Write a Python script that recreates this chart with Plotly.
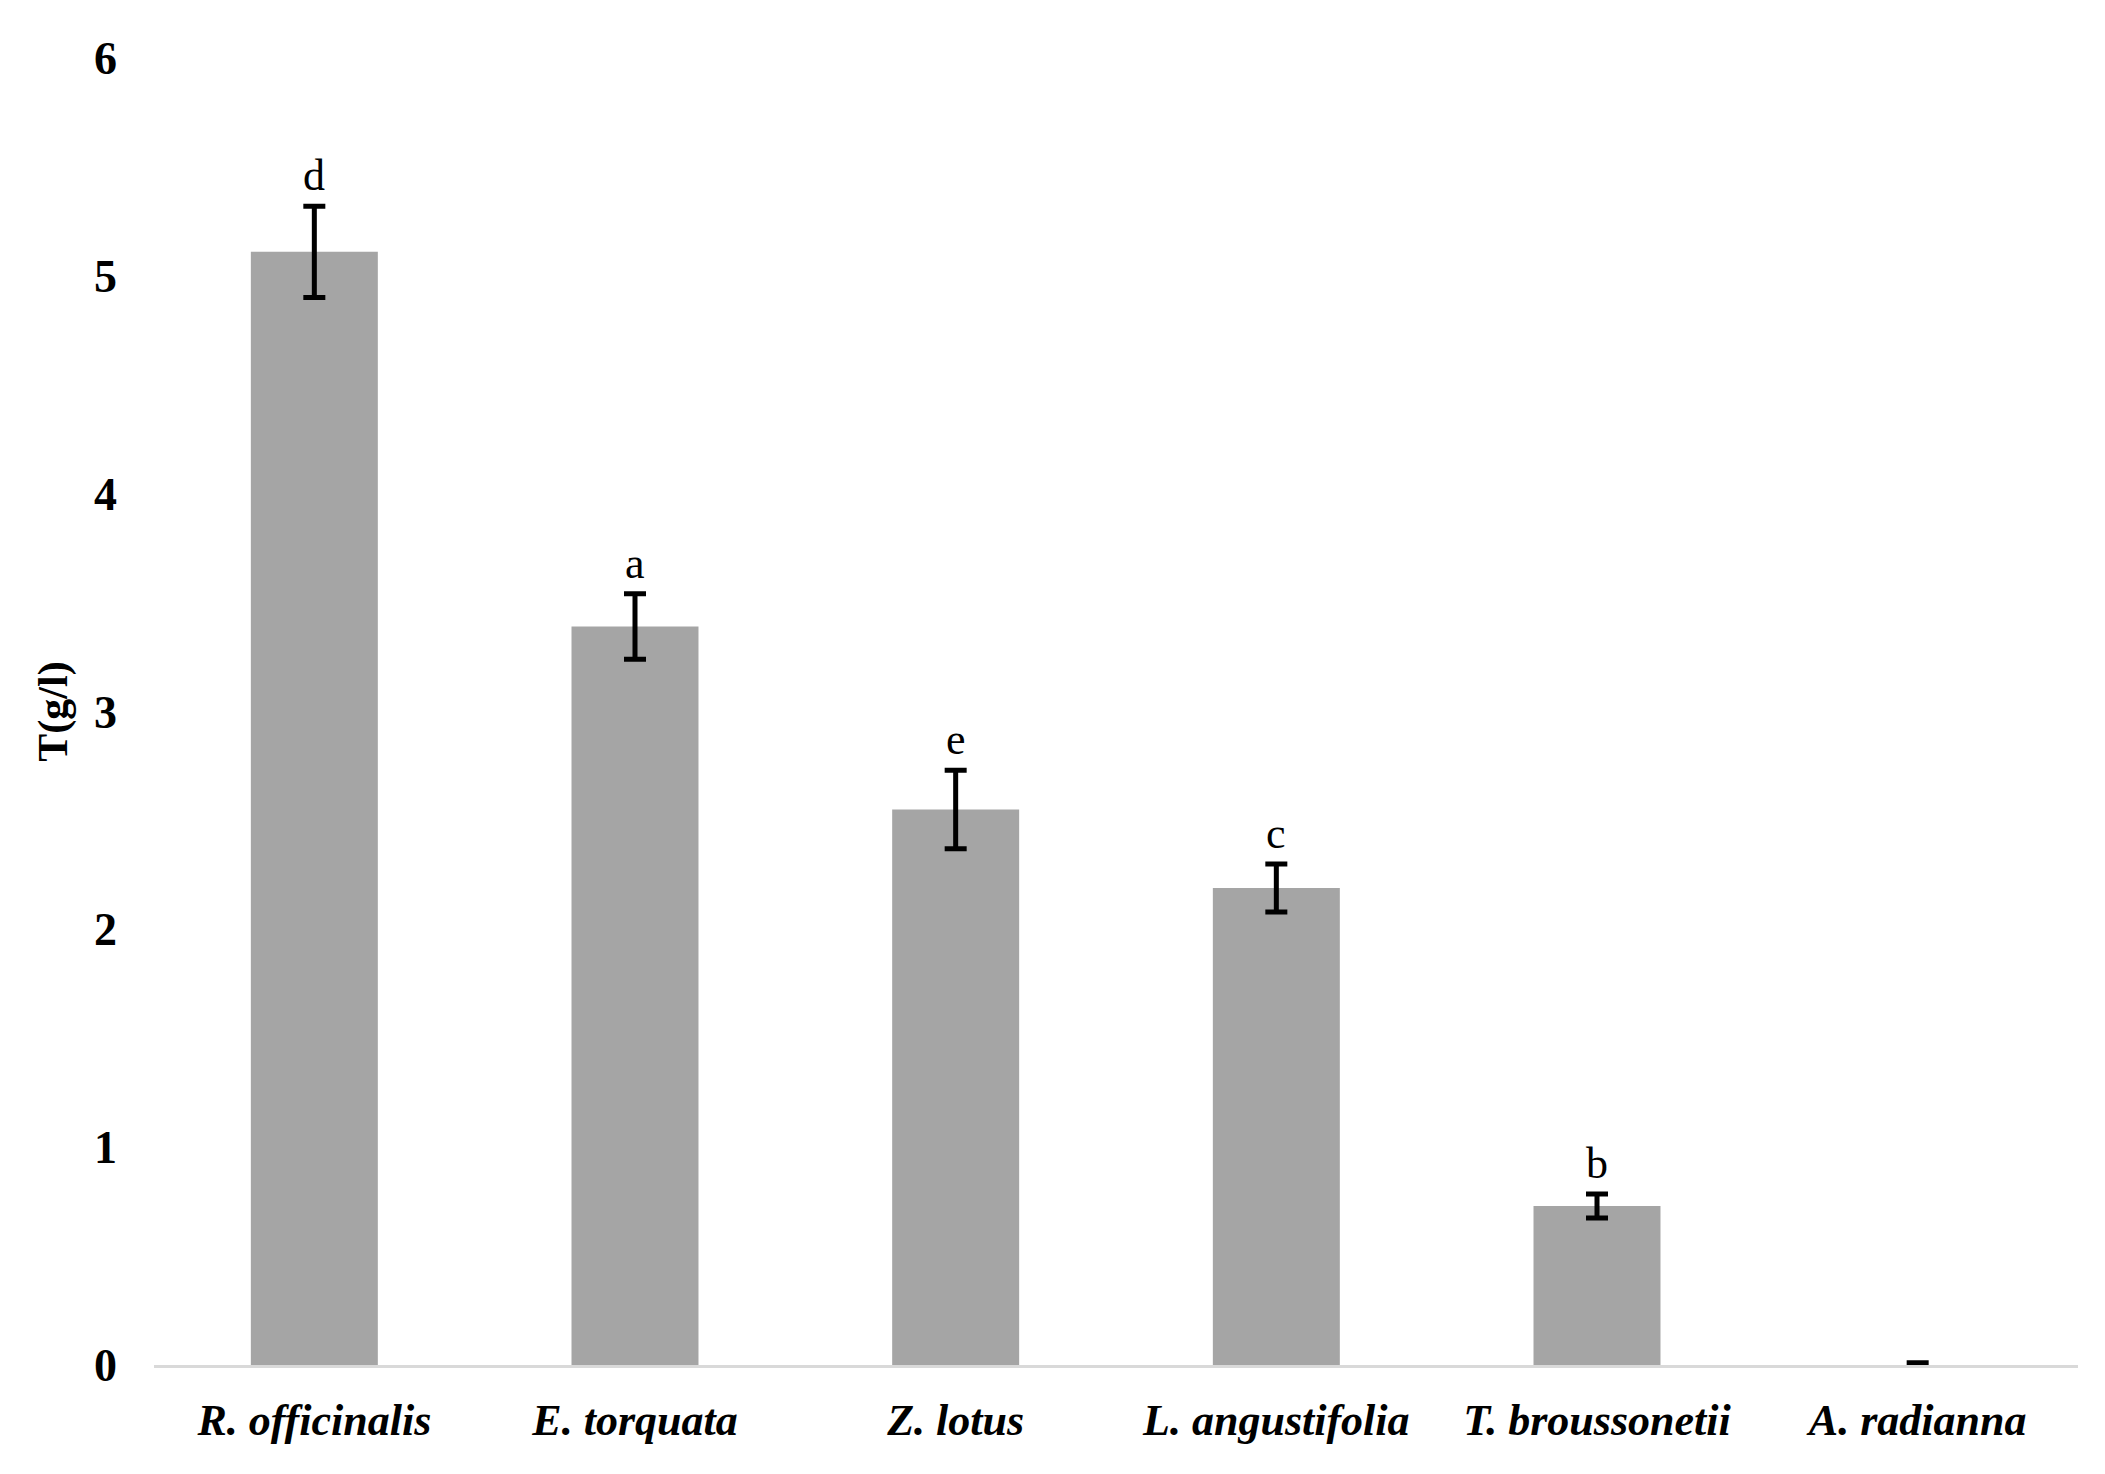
import plotly.graph_objects as go

species = ["R. officinalis", "E. torquata", "Z. lotus", "L. angustifolia", "T. broussonetii", "A. radianna"]
values = [5.11, 3.39, 2.55, 2.19, 0.73, 0.0]
errors = [0.21, 0.15, 0.18, 0.11, 0.055, 0.01]
letters = ["d", "a", "e", "c", "b", ""]
y_ticks = [0, 1, 2, 3, 4, 5, 6]

tick_text = [f"<i>{s}</i>" for s in species]

fig = go.Figure()
fig.add_trace(go.Bar(
    x=species,
    y=values,
    marker=dict(color="#a5a5a5", line=dict(width=0)),
    error_y=dict(type="data", array=errors, visible=True, color="#000000",
                 thickness=5, width=11),
    showlegend=False,
))

for s, v, e, l in zip(species, values, errors, letters):
    if l:
        fig.add_annotation(x=s, y=v + e, text=l, showarrow=False,
                           yanchor="bottom", yshift=4,
                           font=dict(family="Liberation Serif", size=44, color="#000000"))

fig.update_layout(
    width=2105, height=1474,
    margin=dict(l=154, r=27, t=58, b=109),
    paper_bgcolor="white", plot_bgcolor="white",
    bargap=0.604,
    font=dict(family="Liberation Serif", color="#000000"),
)
fig.update_xaxes(
    tickvals=species, ticktext=tick_text,
    tickfont=dict(family="Liberation Serif", size=44, color="#000000", weight="bold"),
    showline=True, linecolor="#d9d9d9", linewidth=3,
    showgrid=False, ticks="", ticklabelstandoff=14,
)
fig.update_yaxes(
    range=[0, 6], tickvals=y_ticks,
    tickfont=dict(family="Liberation Serif", size=46, color="#000000", weight="bold"),
    showgrid=False, zeroline=False, showline=False, ticks="",
    ticklabelstandoff=36,
    title=dict(text="T(g/l)", standoff=13,
               font=dict(family="Liberation Serif", size=42, color="#000000", weight="bold")),
)

fig.write_html("out.html")
